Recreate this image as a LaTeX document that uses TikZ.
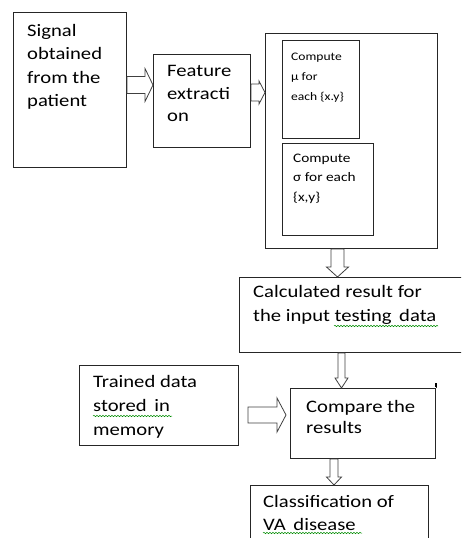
\documentclass[tikz,border=0pt]{standalone}
\usepackage{fontspec}
\setmainfont{Carlito}[FakeStretch=1.18]
\usetikzlibrary{calc,decorations.pathmorphing}
\tikzset{
  box/.style={draw=black!85, line width=1pt, rectangle, inner sep=0pt, anchor=north west},
  blk/.style={draw=black!75, line width=0.8pt, fill=white, line join=miter},
  txt/.style={anchor=north west, inner sep=0pt, align=left, text=black},
  big/.style={txt, font=\fontsize{17.5}{23.5}\selectfont},
  squig/.style={draw=green!55!black, line width=0.5pt, decorate, decoration={snake, amplitude=0.7pt, segment length=3pt}}
}
\newcommand\hblk[6]{%
  \draw[blk] let \p1=#1, \p2=#2 in
    (\x1,-#3pt+#4pt) -- (\x2-#6pt,-#3pt+#4pt) -- (\x2-#6pt,-#3pt+#5pt) -- (\x2,-#3pt)
    -- (\x2-#6pt,-#3pt-#5pt) -- (\x2-#6pt,-#3pt-#4pt) -- (\x1,-#3pt-#4pt) -- cycle;}
\newcommand\vblk[6]{%
  \draw[blk] let \p1=#1, \p2=#2 in
    (#3pt-#4pt,\y1) -- (#3pt-#4pt,\y2+#6pt) -- (#3pt-#5pt,\y2+#6pt) -- (#3pt,\y2)
    -- (#3pt+#5pt,\y2+#6pt) -- (#3pt+#4pt,\y2+#6pt) -- (#3pt+#4pt,\y1) -- cycle;}
\begin{document}
\begin{tikzpicture}[x=1pt,y=-1pt]
\useasboundingbox (0,0) rectangle (461,538);
\clip (0,0) rectangle (461,538);
% boxes
\node[box, minimum width=113pt, minimum height=155pt] (sig) at (13,12) {};
\node[box, minimum width=97pt, minimum height=93pt] (feat) at (153,54) {};
\node[box, minimum width=172pt, minimum height=215pt] (outer) at (265,33) {};
\node[box, minimum width=77pt, minimum height=98pt] (mu) at (282,40) {};
\node[box, minimum width=91pt, minimum height=92pt] (sigma) at (282,143) {};
\node[box, minimum width=231pt, minimum height=75pt] (calc) at (239,277) {};
\node[box, minimum width=159pt, minimum height=80pt] (train) at (79,365) {};
\node[box, minimum width=145pt, minimum height=70pt] (comp) at (290,388) {};
\node[box, minimum width=178pt, minimum height=62pt] (cls) at (250,485) {};
\draw[draw=black!85, line width=1pt] (comp.north east) -- ++(0,-5);
\draw[line width=2pt] ($(comp.north east)+(0,-5)$) -- ++(0,4);
% texts
\node[big] (tsig) at (27,24) {Signal\\obtained\\from the\\patient};
\node[big, font=\fontsize{17.5}{22.5}\selectfont] (tfeat) at (167,65.5) {Feature\\extracti\\on};
\node[txt, font=\fontsize{11.5}{20}\selectfont] (tmu) at (291,52.5) {Compute\\µ for\\each \{x.y\}};
\node[txt, font=\fontsize{13}{19.5}\selectfont] (tsigma) at (293,153.5) {Compute\\σ for each\\\{x,y\}};
\node[big, font=\fontsize{17.5}{24}\selectfont] (tcalc) at (253,285.5) {Calculated result for\\the input testing\ \,data};
\node[big, font=\fontsize{17.5}{24}\selectfont] (ttrain) at (93,375.5) {Trained data\\stored\ \,in\\memory};
\node[big, font=\fontsize{17.5}{21}\selectfont] (tcomp) at (306,400.5) {Compare the\\results};
\node[big, font=\fontsize{17.5}{23}\selectfont] (tcls) at (263,495.5) {Classification of\\VA\ \,disease};
% spell-check squiggles
\draw[squig] (334,326) -- (438,326);
\draw[squig] (93,416) -- (172,416);
\draw[squig] (263,533) -- (362,533);
% block arrows
\hblk{(sig.east)}{(feat.west)}{85}{8.5}{16.5}{8}
\hblk{(feat.east)}{(outer.west)}{92.5}{8.5}{11.5}{6}
\vblk{(outer.south)}{(calc.north)}{337.5}{6.5}{11}{10}
\vblk{(calc.south)}{(comp.north)}{341.5}{3.5}{6.5}{10}
\coordinate (a5s) at (248,415);
\coordinate (a5e) at (286,415);
\hblk{(a5s)}{(a5e)}{415}{8}{17}{9}
\vblk{(comp.south)}{(cls.north)}{334}{4}{7.5}{8}
\end{tikzpicture}
\end{document}
